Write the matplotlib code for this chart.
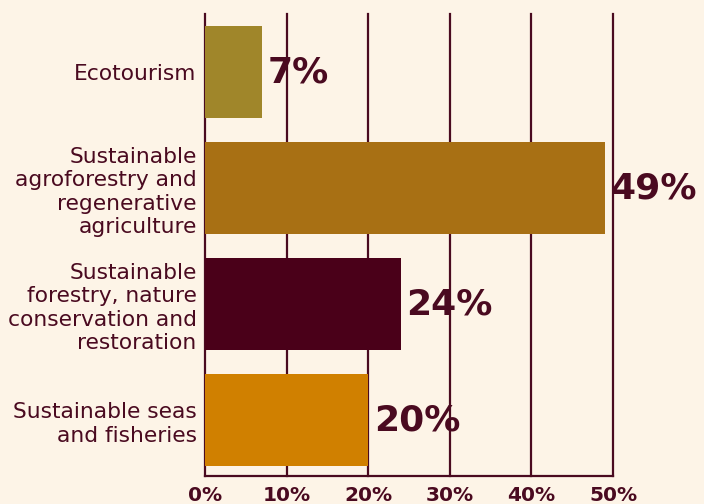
import matplotlib
matplotlib.use("Agg")
import matplotlib.pyplot as plt

categories = [
    "Ecotourism",
    "Sustainable\nagroforestry and\nregenerative\nagriculture",
    "Sustainable\nforestry, nature\nconservation and\nrestoration",
    "Sustainable seas\nand fisheries",
]
shares = [7, 49, 24, 20]
bar_colors = ["#A0862A", "#A87014", "#4A0019", "#D08000"]
x_ticks = [0, 10, 20, 30, 40, 50]
x_tick_labels = ["0%", "10%", "20%", "30%", "40%", "50%"]

bg = "#FDF4E7"
ink = "#4A0A20"

fig = plt.figure(figsize=(7.04, 5.04), dpi=100, facecolor=bg)
ax = fig.add_axes([205 / 704, 28 / 504, 408 / 704, 462 / 504], facecolor=bg)

y = range(len(categories))
ax.barh(y, shares, height=0.793, color=bar_colors, zorder=3)

for yi, v in zip(y, shares):
    ax.text(v + 0.7, yi, f"{v}%", va="center", ha="left",
            fontsize=26, fontweight="bold", color=ink, zorder=4)

ax.set_xlim(0, 50)
ax.set_ylim(3.48, -0.5)
ax.set_xticks(x_ticks)
ax.set_xticklabels(x_tick_labels, fontsize=14.5, fontweight="bold", color=ink)
ax.set_yticks(list(y))
ax.set_yticklabels(categories, fontsize=15.7, color=ink, linespacing=1.22)
ax.tick_params(axis="x", length=0, pad=7.5)
ax.tick_params(axis="y", length=0, pad=6)

ax.grid(axis="x", color=ink, linewidth=1.6, zorder=1)
ax.grid(axis="y", visible=False)
for line in ax.get_xgridlines():
    line.set_clip_on(False)
for side in ["top", "right", "left"]:
    ax.spines[side].set_visible(False)
ax.spines["bottom"].set_color(ink)
ax.spines["bottom"].set_linewidth(1.6)

fig.savefig("out.png", dpi=100, facecolor=bg)
